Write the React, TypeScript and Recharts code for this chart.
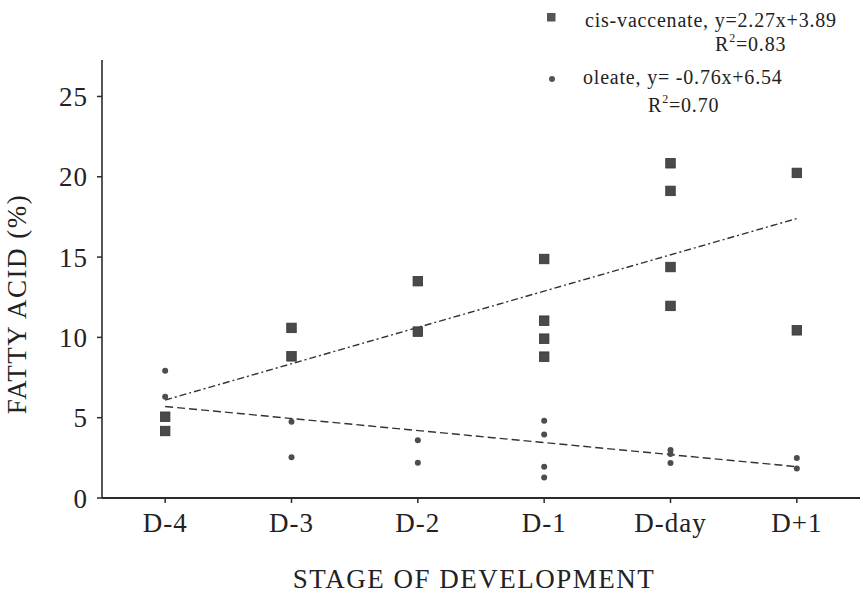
import React from 'react'
import { ScatterChart, Scatter, XAxis, YAxis, Legend, Label } from 'recharts'

const stages = ['D-4', 'D-3', 'D-2', 'D-1', 'D-day', 'D+1']
const yTicks = [0, 5, 10, 15, 20, 25]

// stage index -> % of fatty acid
const cisVaccenate = [
  { stage: 0, value: 5.06 },
  { stage: 0, value: 4.17 },
  { stage: 1, value: 10.59 },
  { stage: 1, value: 8.82 },
  { stage: 2, value: 13.5 },
  { stage: 2, value: 10.36 },
  { stage: 3, value: 14.88 },
  { stage: 3, value: 11.04 },
  { stage: 3, value: 9.92 },
  { stage: 3, value: 8.8 },
  { stage: 4, value: 20.84 },
  { stage: 4, value: 19.12 },
  { stage: 4, value: 14.38 },
  { stage: 4, value: 11.96 },
  { stage: 5, value: 20.24 },
  { stage: 5, value: 10.44 },
]

const oleate = [
  { stage: 0, value: 7.93 },
  { stage: 0, value: 6.31 },
  { stage: 1, value: 4.75 },
  { stage: 1, value: 2.53 },
  { stage: 2, value: 3.59 },
  { stage: 2, value: 2.2 },
  { stage: 3, value: 4.81 },
  { stage: 3, value: 3.96 },
  { stage: 3, value: 1.95 },
  { stage: 3, value: 1.27 },
  { stage: 4, value: 2.99 },
  { stage: 4, value: 2.74 },
  { stage: 4, value: 2.18 },
  { stage: 5, value: 2.49 },
  { stage: 5, value: 1.83 },
]

// fitted lines, end points
const cisTrend = [
  { stage: 0, value: 6.1 },
  { stage: 5, value: 17.4 },
]
const oleateTrend = [
  { stage: 0, value: 5.7 },
  { stage: 5, value: 1.95 },
]

const FONT = '"Liberation Serif", "Times New Roman", serif'
const INK = '#2b2b2b'

const SquareDot = (props: any) => (
  <rect x={props.cx - 4.75} y={props.cy - 4.75} width={9.5} height={9.5} fill="#4a4a4a" stroke="#333" strokeWidth={0.8} />
)
const RoundDot = (props: any) => <circle cx={props.cx} cy={props.cy} r={3} fill="#4d4d4d" />
const NoDot = () => <g />

const renderLegend = () => (
  <svg width={323} height={120} style={{ fontFamily: FONT, overflow: 'visible' }}>
    <rect x={7} y={13} width={8.5} height={8.5} fill="#555" />
    <text x={45} y={27} fontSize={20} letterSpacing={0.8} fill="#222">
      cis-vaccenate, y=2.27x+3.89
    </text>
    <text x={175} y={51} fontSize={20} letterSpacing={0.8} fill="#222">
      R<tspan fontSize={12} dy={-9}>2</tspan>
      <tspan dy={9}>=0.83</tspan>
    </text>
    <circle cx={12} cy={79} r={3} fill="#555" />
    <text x={43} y={84} fontSize={20} letterSpacing={0.8} fill="#222">
      oleate, y= -0.76x+6.54
    </text>
    <text x={108} y={112} fontSize={20} letterSpacing={0.8} fill="#222">
      R<tspan fontSize={12} dy={-9}>2</tspan>
      <tspan dy={9}>=0.70</tspan>
    </text>
  </svg>
)

const tickStyle = { fontFamily: FONT, fontSize: 27, fill: '#222', letterSpacing: 1 }

export default function App() {
  return (
    <div style={{ position: 'absolute', left: 0, top: 0 }}>
      <ScatterChart width={863} height={594} margin={{ top: 60, right: 3, bottom: 36, left: 0 }}>
        <XAxis
          type="number"
          dataKey="stage"
          domain={[-0.5, 5.5]}
          ticks={[0, 1, 2, 3, 4, 5]}
          tickFormatter={(i: number) => stages[i]}
          interval={0}
          height={60}
          tickSize={5}
          tickMargin={10}
          tick={tickStyle}
          axisLine={{ stroke: INK, strokeWidth: 2 }}
          tickLine={{ stroke: INK, strokeWidth: 1.5 }}
          allowDataOverflow
        >
          <Label
            content={() => (
              <text x={474} y={588} textAnchor="middle" fontFamily={FONT} fontSize={27} letterSpacing={1.5} fill="#222">
                STAGE OF DEVELOPMENT
              </text>
            )}
          />
        </XAxis>
        <YAxis
          type="number"
          dataKey="value"
          domain={[0, 27.27]}
          ticks={yTicks}
          width={102}
          tickSize={5}
          tickMargin={9}
          tick={tickStyle}
          axisLine={{ stroke: INK, strokeWidth: 1.6 }}
          tickLine={{ stroke: INK, strokeWidth: 1.5 }}
          allowDataOverflow
        >
          <Label
            content={() => (
              <text
                x={26}
                y={304}
                transform="rotate(-90 26 304)"
                textAnchor="middle"
                fontFamily={FONT}
                fontSize={27}
                letterSpacing={1.5}
                fill="#222"
              >
                FATTY ACID (%)
              </text>
            )}
          />
        </YAxis>
        <Legend
          layout="vertical"
          align="center"
          verticalAlign="middle"
          wrapperStyle={{ top: 0, left: 540, width: 323, height: 120 }}
          content={renderLegend}
        />
        <Scatter
          name="cis-trend"
          data={cisTrend}
          line={{ stroke: '#333', strokeWidth: 1.4, strokeDasharray: '7 3 2 3' }}
          shape={NoDot}
          isAnimationActive={false}
        />
        <Scatter
          name="oleate-trend"
          data={oleateTrend}
          line={{ stroke: '#333', strokeWidth: 1.4, strokeDasharray: '8 4' }}
          shape={NoDot}
          isAnimationActive={false}
        />
        <Scatter name="cis-vaccenate" data={cisVaccenate} shape={SquareDot} isAnimationActive={false} />
        <Scatter name="oleate" data={oleate} shape={RoundDot} isAnimationActive={false} />
      </ScatterChart>
    </div>
  )
}
